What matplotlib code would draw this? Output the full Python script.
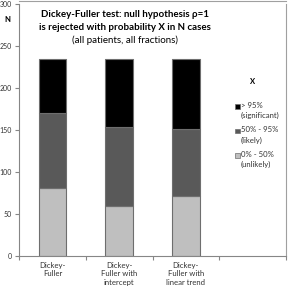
import matplotlib
matplotlib.use("Agg")
import matplotlib.pyplot as plt
from matplotlib.patches import Rectangle
from matplotlib.lines import Line2D
import numpy as np

categories = ["Dickey-\nFuller", "Dickey-\nFuller with\nintercept", "Dickey-\nFuller with\nlinear trend", ""]
unlikely = [81, 60, 72]      # 0% - 50%
likely = [89, 93, 79]        # 50% - 95%
significant = [64, 81, 83]   # > 95%
series_labels = ["> 95%\n(significant)", "50% - 95%\n(likely)", "0% - 50%\n(unlikely)"]
colors = ["#000000", "#595959", "#bfbfbf"]
yticks = [0, 50, 100, 150, 200, 250, 300]

plt.rcParams['font.family'] = ['Lato', 'DejaVu Sans']

fig = plt.figure(figsize=(2.89, 2.91), dpi=100)
ax = fig.add_axes([19/289, 35/291, (286-19)/289, 252/291])

x = np.arange(len(unlikely))
w = 0.41
edge = "#6e6e6e"
lw = 0.8
ax.bar(x, unlikely, w, color=colors[2], edgecolor=edge, linewidth=lw)
ax.bar(x, likely, w, bottom=unlikely, color=colors[1], edgecolor=edge, linewidth=lw)
bottom2 = np.array(unlikely) + np.array(likely)
ax.bar(x, significant, w, bottom=bottom2, color=colors[0], edgecolor=edge, linewidth=lw)

ax.set_xlim(-0.5, 3.5)
ax.set_ylim(0, 300)
ax.set_yticks(yticks)
ax.set_yticklabels([str(v) for v in yticks], fontsize=5.0, color="#333333")
ax.set_xticks(np.arange(-0.5, 3.6, 1.0))
ax.set_xticklabels([])
ax.set_xticks(np.arange(len(categories)), minor=True)
ax.set_xticklabels(categories, minor=True, fontsize=5.6, color="#333333", linespacing=1.25)
ax.tick_params(axis='x', which='major', length=3, width=0.8, color="#868686", direction='out')
ax.tick_params(axis='x', which='minor', length=0, pad=4)
ax.tick_params(axis='y', length=3, width=0.8, color="#868686", direction='out', pad=2)

for s in ['left', 'bottom']:
    ax.spines[s].set_color("#868686")
    ax.spines[s].set_linewidth(0.8)
ax.spines['top'].set_visible(False)
ax.spines['right'].set_color("#a0a0a0")
ax.spines['right'].set_linewidth(0.8)

# frame line at top
fig.add_artist(Line2D([19/289, 286/289], [290.5/291, 290.5/291], color="#a0a0a0", lw=0.8, transform=fig.transFigure))

# title
ax.text(125/289, 1 - 14.7/291, "Dickey-Fuller test: null hypothesis ρ=1", transform=fig.transFigure,
        ha='center', va='center', fontsize=7, fontweight='bold')
ax.text(125/289, 1 - 27.3/291, "is rejected with probability X in N cases", transform=fig.transFigure,
        ha='center', va='center', fontsize=7, fontweight='bold')
ax.text(125/289, 1 - 40.7/291, "(all patients, all fractions)", transform=fig.transFigure,
        ha='center', va='center', fontsize=7)

# N label
fig.text(7/289, 1 - 19/291, "N", ha='center', va='center', fontsize=5.5, fontweight='bold')

# legend (manual)
fig.text(253/289, 1 - 81/291, "X", ha='center', va='center', fontsize=5.5, fontweight='bold')
leg_y = [106, 131, 155]
for yy, lab, c in zip(leg_y, series_labels, colors):
    fig.add_artist(Rectangle((235/289, 1 - (yy + 2.5)/291), 4.5/289, 4.5/291, facecolor=c,
                             edgecolor=edge, linewidth=0.5, transform=fig.transFigure))
    fig.text(241/289, 1 - (yy - 4.5)/291, lab, ha='left', va='top', fontsize=5.6,
             color="#333333", linespacing=1.55)

fig.savefig("out.png", dpi=100)
